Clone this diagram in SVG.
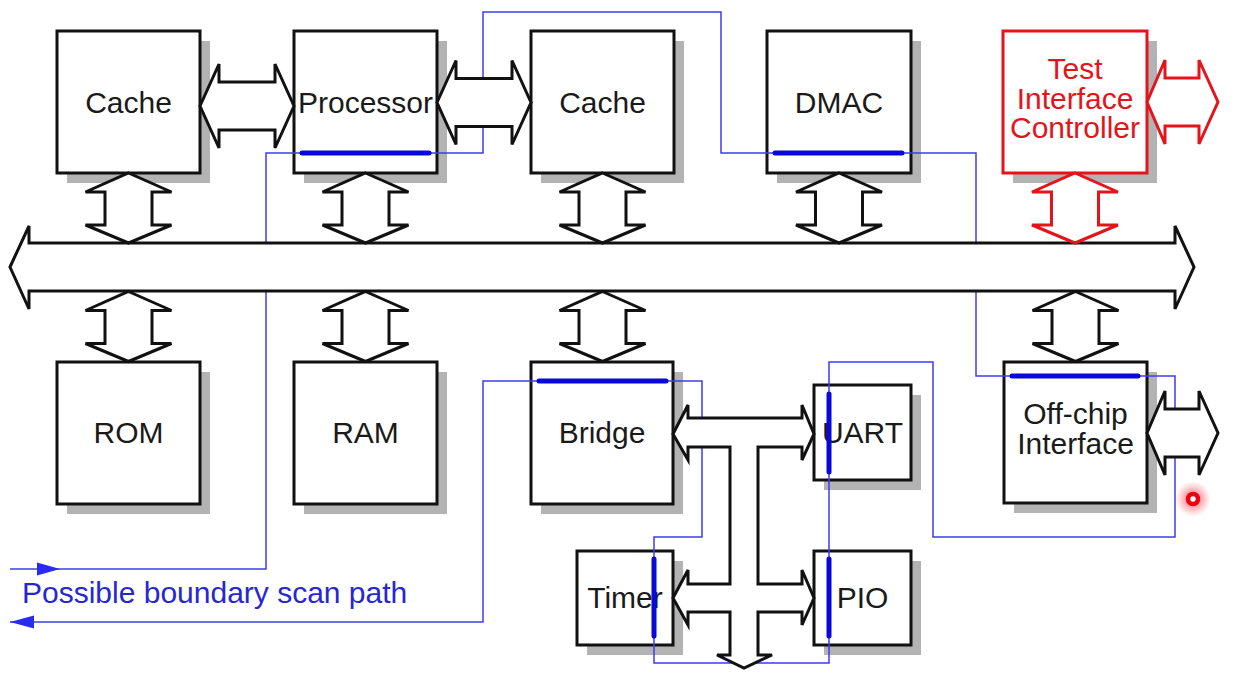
<svg xmlns="http://www.w3.org/2000/svg" xmlns:xlink="http://www.w3.org/1999/xlink" width="1249" height="681" viewBox="0 0 1249 681">
<style>
.shadow{fill:#b3b3b3}
.box{fill:#ffffff;stroke:#111111;stroke-width:3}
.rbox{fill:#ffffff;stroke:#e3141c;stroke-width:3}
.lbl{font-family:"Liberation Sans",Arial,sans-serif;font-size:30px;fill:#1a1a1a;text-anchor:middle}
.rlbl{font-family:"Liberation Sans",Arial,sans-serif;font-size:30px;fill:#e3141c;text-anchor:middle}
.blbl{font-family:"Liberation Sans",Arial,sans-serif;font-size:30px;fill:#2626d4}
.arr{fill:#ffffff;stroke:#111111;stroke-width:3;stroke-linejoin:miter}
.rarr{fill:#ffffff;stroke:#e3141c;stroke-width:3;stroke-linejoin:miter}
.scan{fill:none;stroke:#3c3cf2;stroke-width:1.5}
.thick{fill:none;stroke:#0808d8;stroke-width:5;stroke-linecap:round}
</style>
<defs>
<path id="varr" d="M0,0 L43,19 L23.5,19 L23.5,52 L43,52 L0,70 L-43,52 L-23.5,52 L-23.5,19 L-43,19 Z"/>
<path id="harr" d="M0,0 L19,-42 L19,-24 L75,-24 L75,-42 L94,0 L75,42 L75,24 L19,24 L19,42 Z"/>
<path id="sarr" d="M0,0 L18,-42 L18,-24 L52,-24 L52,-42 L71,0 L52,42 L52,24 L18,24 L18,42 Z"/>
<radialGradient id="glow">
<stop offset="0" stop-color="#ff1a2a" stop-opacity="0.75"/>
<stop offset="0.55" stop-color="#ff3a4a" stop-opacity="0.35"/>
<stop offset="1" stop-color="#ff6070" stop-opacity="0"/>
</radialGradient>
</defs>
<rect width="1249" height="681" fill="#ffffff"/>

<g id="cache1"><rect class="shadow" x="67" y="41" width="143" height="142"/><rect class="box" x="57" y="31" width="143" height="142"/><text class="lbl" x="128.5" y="113">Cache</text></g>
<g id="processor"><rect class="shadow" x="304" y="41" width="143" height="142"/><rect class="box" x="294" y="31" width="143" height="142"/><text class="lbl" x="365.5" y="113">Processor</text></g>
<g id="cache2"><rect class="shadow" x="541" y="41" width="143" height="142"/><rect class="box" x="531" y="31" width="143" height="142"/><text class="lbl" x="602.5" y="113">Cache</text></g>
<g id="dmac"><rect class="shadow" x="777" y="41" width="144" height="142"/><rect class="box" x="767" y="31" width="144" height="142"/><text class="lbl" x="839" y="113">DMAC</text></g>
<g id="tic"><rect class="shadow" x="1013" y="41" width="144" height="142"/><rect class="rbox" x="1003" y="31" width="144" height="142"/><text class="rlbl" x="1075" y="79">Test</text><text class="rlbl" x="1075" y="109">Interface</text><text class="rlbl" x="1075" y="138">Controller</text></g>
<g id="rom"><rect class="shadow" x="67" y="372" width="143" height="142"/><rect class="box" x="57" y="362" width="143" height="142"/><text class="lbl" x="128.5" y="443">ROM</text></g>
<g id="ram"><rect class="shadow" x="304" y="372" width="143" height="142"/><rect class="box" x="294" y="362" width="143" height="142"/><text class="lbl" x="365.5" y="443">RAM</text></g>
<g id="bridge"><rect class="shadow" x="541" y="372" width="142" height="142"/><rect class="box" x="531" y="362" width="142" height="142"/><text class="lbl" x="602" y="443">Bridge</text></g>
<g id="offchip"><rect class="shadow" x="1014" y="372" width="143" height="141"/><rect class="box" x="1004" y="362" width="143" height="141"/><text class="lbl" x="1075.5" y="424">Off-chip</text><text class="lbl" x="1075.5" y="454">Interface</text></g>
<g id="uart"><rect class="shadow" x="824" y="395" width="97" height="95"/><rect class="box" x="814" y="385" width="97" height="95"/><text class="lbl" x="862.5" y="443">UART</text></g>
<g id="timer"><rect class="shadow" x="587" y="561" width="96" height="94"/><rect class="box" x="577" y="551" width="96" height="94"/><text class="lbl" x="625" y="608">Timer</text></g>
<g id="pio"><rect class="shadow" x="824" y="561" width="97" height="94"/><rect class="box" x="814" y="551" width="97" height="94"/><text class="lbl" x="862.5" y="608">PIO</text></g>

<g id="connectors">
<g id="scan-path">
<polyline class="scan" points="10,569 266,569 266,153 483,153 483,12 721,12 721,153 976,153 976,376 1175,376 1175,537 933,537 933,362 829,362 829,663 654,663 654,537 702,537 702,381 483,381 483,622 10,622"/>
<polygon points="60,569 37,562.5 37,575.5" fill="#2a2af0"/>
<polygon points="10,622 34,615.5 34,628.5" fill="#2a2af0"/>
</g>
<path class="arr" d="M10,267 L29,226 L29,243 L1175,243 L1175,226 L1194,267 L1175,309 L1175,291 L29,291 L29,309 Z"/>
<use href="#harr" xlink:href="#harr" class="arr" transform="translate(200,106)"/>
<use href="#harr" xlink:href="#harr" class="arr" transform="translate(437,102.5)"/>
<use href="#sarr" xlink:href="#sarr" class="rarr" transform="translate(1147,102)"/>
<use href="#sarr" xlink:href="#sarr" class="arr" transform="translate(1147,433)"/>
<use href="#varr" xlink:href="#varr" class="arr" transform="translate(128.5,173)"/>
<use href="#varr" xlink:href="#varr" class="arr" transform="translate(365.5,173)"/>
<use href="#varr" xlink:href="#varr" class="arr" transform="translate(602.5,173)"/>
<use href="#varr" xlink:href="#varr" class="arr" transform="translate(839,173)"/>
<use href="#varr" xlink:href="#varr" class="rarr" transform="translate(1075,173)"/>
<use href="#varr" xlink:href="#varr" class="arr" transform="translate(128.5,291.5)"/>
<use href="#varr" xlink:href="#varr" class="arr" transform="translate(365.5,291.5)"/>
<use href="#varr" xlink:href="#varr" class="arr" transform="translate(602.5,291.5)"/>
<use href="#varr" xlink:href="#varr" class="arr" transform="translate(1075.5,291.5)"/>
<path class="arr" d="M673,434 L688,405 L688,418 L802,418 L802,405 L814,434 L802,460 L802,447 L758,447 L758,584 L802,584 L802,570 L814,598 L802,625 L802,612 L758,612 L758,655 L772,655 L744,668 L717,655 L730,655 L730,612 L688,612 L688,625 L673,598 L688,570 L688,584 L730,584 L730,447 L688,447 L688,460 Z"/>
<g id="scan-cells">
<line class="thick" x1="302" y1="153" x2="429" y2="153"/>
<line class="thick" x1="775" y1="153" x2="902" y2="153"/>
<line class="thick" x1="1012" y1="376" x2="1138" y2="376"/>
<line class="thick" x1="539" y1="381" x2="666" y2="381"/>
<line class="thick" x1="829" y1="394" x2="829" y2="472"/>
<line class="thick" x1="829" y1="559" x2="829" y2="636"/>
<line class="thick" x1="654" y1="559" x2="654" y2="636"/>
</g>
</g>
<text class="blbl" x="22" y="603">Possible boundary scan path</text>
<g id="cursor">
<circle cx="1193" cy="499" r="18" fill="url(#glow)"/>
<circle cx="1193" cy="499" r="5" fill="#ffffff" stroke="#ee0010" stroke-width="4.5"/>
</g>
</svg>
